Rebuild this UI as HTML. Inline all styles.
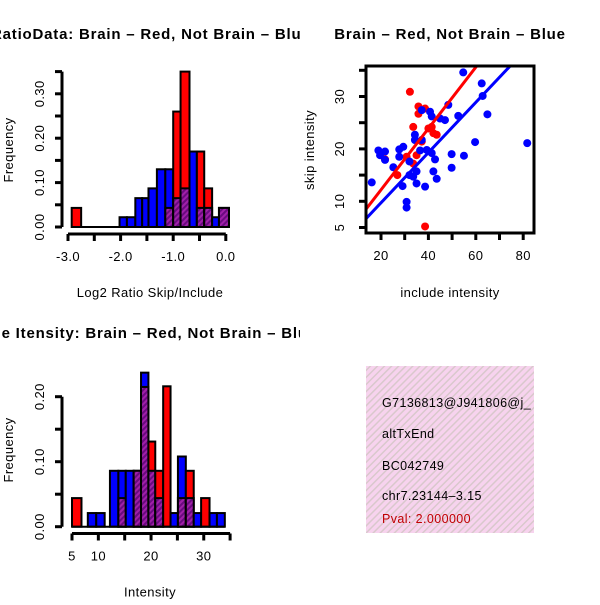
<!DOCTYPE html>
<html><head><meta charset="utf-8"><style>
html,body{margin:0;padding:0;background:#fff;}
svg text{font-family:"Liberation Sans",sans-serif;}
.t{font-size:13px;letter-spacing:0.4px;}
.ti{font-size:15px;font-weight:bold;letter-spacing:0.8px;}
</style></head><body>
<svg id="c" width="600" height="600" viewBox="0 0 600 600" xmlns="http://www.w3.org/2000/svg">
<defs>
<pattern id="hatch" width="4" height="4" patternUnits="userSpaceOnUse" patternTransform="rotate(45)">
<rect width="4" height="4" fill="#a020a8"/><rect width="2" height="4" fill="#6a0a80"/>
</pattern>
<pattern id="pinkhatch" width="5" height="5" patternUnits="userSpaceOnUse" patternTransform="rotate(45)">
<rect width="5" height="5" fill="#f7d3ee"/><rect width="1.5" height="5" fill="#d9c8cc"/>
</pattern>
<clipPath id="clipL"><rect x="0" y="0" width="300" height="600"/></clipPath>
<clipPath id="clipS"><rect x="366" y="66" width="168" height="167"/></clipPath>
<clipPath id="clipT"><rect x="366" y="366" width="168" height="167"/></clipPath>
</defs>
<g id="g"></g>
</svg>
<script>
// ---- Top histogram data (log2 ratio) ----
const ratioEdgesL = [-2.93,-2.02,-1.88,-1.72,-1.59,-1.47,-1.31,-1.15,-1.00,-0.86,-0.69,-0.55,-0.41,-0.26,-0.13];
const ratioEdgesR = [-2.75,-1.88,-1.72,-1.59,-1.47,-1.31,-1.15,-1.00,-0.86,-0.69,-0.55,-0.41,-0.26,-0.13,0.06];
const ratioColors = ['red','blue','blue','blue','blue','blue','blue','blue','red','red','blue','red','red','blue','purple'];
const ratioValues = [0.043,0.022,0.022,0.065,0.065,0.087,0.13,0.13,0.26,0.35,0.17,0.17,0.087,0.022,0.043];
const ratioPurple = [0,0,0,0,0,0,0,0.043,0.065,0.087,0,0.043,0.043,0,0.043];
const ratioTicks = [-3,-2.5,-2,-1.5,-1,-0.5,0];
const ratioTickLabels = ['-3.0','','-2.0','','-1.0','','0.0'];
const freqTicksTop = [0,0.05,0.10,0.15,0.20,0.25,0.30,0.35];
const freqTickLabelsTop = ['0.00','','0.10','','0.20','','0.30',''];

// ---- Bottom histogram data (intensity) ----
const intEdgesL = [5.0,8.0,9.6,12.2,13.8,15.2,16.7,18.1,19.5,20.8,22.3,23.7,25.1,26.6,28.1,29.5,31.1,32.5];
const intEdgesR = [6.8,9.6,11.2,13.8,15.2,16.7,18.1,19.5,20.8,22.3,23.7,25.1,26.6,28.1,29.5,31.1,32.5,34.0];
const intColors = ['red','blue','blue','blue','blue','blue','purple','blue','red','red','red','blue','blue','red','blue','red','blue','blue'];
const intValues = [0.044,0.021,0.021,0.086,0.086,0.086,0.086,0.237,0.131,0.086,0.216,0.021,0.108,0.086,0.021,0.044,0.021,0.021];
const intPurple = [0,0,0,0,0.044,0,0.086,0.215,0.086,0.044,0,0,0.044,0.044,0,0,0,0];
const intTicks = [5,10,15,20,25,30,35];
const intTickLabels = ['5','10','','20','','30',''];
const freqTicksBot = [0,0.05,0.10,0.15,0.20];
const freqTickLabelsBot = ['0.00','','0.10','','0.20'];

// ---- Scatter data ----
const redInclude = [32.2,35.8,38.6,35.8,33.6,40.0,41.4,43.5,42.1,37.2,35.0,30.8,33.6,26.9,38.6,21.7];
const redSkip =    [30.9,28.1,27.7,26.7,24.2,23.9,24.2,22.7,23.0,21.4,18.8,18.5,17.2,15.0,5.2,18.0];
const blueInclude = [54.7,62.5,62.9,48.4,37.2,40.7,41.4,44.9,47.0,52.6,64.9,34.3,34.3,37.2,29.4,18.9,21.7,19.6,21.7,27.7,27.7,32.0,36.5,39.3,41.4,49.8,55.0,59.7,81.7,42.8,25.2,49.8,35.0,42.1,32.0,33.6,43.5,16.1,29.1,35.0,38.6,30.8,30.8];
const blueSkip =    [34.6,32.5,30.1,28.4,27.4,27.1,26.2,25.8,25.5,26.3,26.6,22.7,21.7,21.7,20.4,19.7,19.5,18.8,17.9,19.9,18.5,17.6,19.7,19.8,19.2,19.0,18.7,21.3,21.1,18.0,16.5,16.4,15.7,15.7,15.0,14.7,14.3,13.6,12.9,13.4,12.8,9.9,8.8];
const redFit = [0.49,0.585];   // intercept, slope
const blueFit = [0.14,0.479];
const scXTicks = [20,30,40,50,60,70,80];
const scXTickLabels = ['20','','40','','60','','80'];
const scYTicks = [5,10,15,20,25,30,35];
const scYTickLabels = ['5','10','','20','','30',''];

const NS='http://www.w3.org/2000/svg';
const root=document.getElementById('g');
function mk(tag,attrs,parent){const e=document.createElementNS(NS,tag);for(const k in attrs)e.setAttribute(k,attrs[k]);(parent||root).appendChild(e);return e;}
function txt(s,attrs,parent){const e=mk('text',attrs,parent);e.textContent=s;return e;}
const fillOf={red:'#ff0000',blue:'#0000ff',purple:'url(#hatch)'};

function histogram(o){
  const grp=mk('g',{'clip-path':'url(#clipL)'});
  
  
  const sx=v=>o.x0+(v-o.xmin)*o.xs, sy=v=>o.y0-v*o.ys;
  for(let i=0;i<o.L.length;i++){
    const x=sx(o.L[i]),w=sx(o.R[i])-x,h=o.V[i]*o.ys;
    const r=mk('rect',{x:x,y:sy(o.V[i]),width:w,height:h,fill:fillOf[o.C[i]],stroke:'#000','stroke-width':2},grp);
    
    
    if(o.P[i]>0){
      const p=mk('rect',{x:x,y:sy(o.P[i]),width:w,height:o.P[i]*o.ys,fill:'url(#hatch)',stroke:'#000','stroke-width':2},grp);
      
      
    }
  }
  mk('line',{x1:sx(o.L[0]),x2:sx(o.R[o.R.length-1]),y1:o.y0,y2:o.y0,stroke:'#000','stroke-width':2},grp);
  const ya=mk('g',{},grp);
  
  
  mk('line',{x1:62,x2:62,y1:sy(o.yt[0]),y2:sy(o.yt[o.yt.length-1]),stroke:'#000','stroke-width':3},ya);
  o.yt.forEach((t,i)=>{mk('line',{x1:55,x2:62,y1:sy(t),y2:sy(t),stroke:'#000','stroke-width':3},ya);
    if(o.ytl[i]){const tl=txt(o.ytl[i],{x:44,y:sy(t),'class':'t','text-anchor':'middle',transform:`rotate(-90 44 ${sy(t)})`},ya);
    }});
  const xa=mk('g',{},grp);
  
  
  mk('line',{x1:sx(o.xt[0]),x2:sx(o.xt[o.xt.length-1]),y1:o.axY,y2:o.axY,stroke:'#000','stroke-width':3},xa);
  o.xt.forEach((t,i)=>{mk('line',{x1:sx(t),x2:sx(t),y1:o.axY,y2:o.axY+7,stroke:'#000','stroke-width':3},xa);
    if(o.xtl[i]){const tl=txt(o.xtl[i],{x:sx(t),y:o.axY+27,'class':'t','text-anchor':'middle'},xa);
    }});
  const xl=txt(o.xlab,{x:150,y:o.axY+63,'class':'t','text-anchor':'middle'},grp);
  
  const yl=txt('Frequency',{x:13,y:o.ymid,'class':'t','text-anchor':'middle',transform:`rotate(-90 13 ${o.ymid})`},grp);
  
  const ti=txt(o.title,{x:o.titleX,y:o.titleY,'class':'ti'},grp);
  
}

histogram({name:'ratio-histogram',L:ratioEdgesL,R:ratioEdgesR,C:ratioColors,V:ratioValues,P:ratioPurple,
  xmin:-3,x0:68,xs:52.6,y0:227,ys:444,axY:234,xt:ratioTicks,xtl:ratioTickLabels,yt:freqTicksTop,ytl:freqTickLabelsTop,
  xlab:'Log2 Ratio Skip/Include',ymid:150,title:'RatioData: Brain \u2013 Red, Not Brain \u2013 Blue',titleX:-9,titleY:39});
histogram({name:'intensity-histogram',L:intEdgesL,R:intEdgesR,C:intColors,V:intValues,P:intPurple,
  xmin:5,x0:72,xs:5.27,y0:526.7,ys:650,axY:533.5,xt:intTicks,xtl:intTickLabels,yt:freqTicksBot,ytl:freqTickLabelsBot,
  xlab:'Intensity',ymid:450,title:'Gene Itensity: Brain \u2013 Red, Not Brain \u2013 Blue',titleX:-30,titleY:338});

// ---- Scatter ----
(function(){
  const grp=mk('g',{});
  
  
  const sx=v=>381+(v-20)*2.37, sy=v=>227.5-(v-5)*5.24;
  const pts=mk('g',{'clip-path':'url(#clipS)'},grp);
  function line(f,col,name){const xa=10,xb=90;
    const l=mk('line',{x1:sx(xa),y1:sy(f[0]+f[1]*xa),x2:sx(xb),y2:sy(f[0]+f[1]*xb),stroke:col,'stroke-width':3},pts);
    }
  redInclude.forEach((x,i)=>{const c=mk('circle',{cx:sx(x),cy:sy(redSkip[i]),r:4,fill:'#ff0000'},pts);
    });
  blueInclude.forEach((x,i)=>{const c=mk('circle',{cx:sx(x),cy:sy(blueSkip[i]),r:4,fill:'#0000ff'},pts);
    });
  line(redFit,'#ff0000','fit-line-brain');
  line(blueFit,'#0000ff','fit-line-not-brain');
  const box=mk('rect',{x:366,y:66,width:168,height:167,fill:'none',stroke:'#000','stroke-width':3},grp);
  
  scXTicks.forEach((t,i)=>{mk('line',{x1:sx(t),x2:sx(t),y1:233,y2:240,stroke:'#000','stroke-width':3},grp);
    if(scXTickLabels[i]){const tl=txt(scXTickLabels[i],{x:sx(t),y:260,'class':'t','text-anchor':'middle'},grp);
    }});
  scYTicks.forEach((t,i)=>{mk('line',{x1:359,x2:366,y1:sy(t),y2:sy(t),stroke:'#000','stroke-width':3},grp);
    if(scYTickLabels[i]){const tl=txt(scYTickLabels[i],{x:344,y:sy(t),'class':'t','text-anchor':'middle',transform:`rotate(-90 344 ${sy(t)})`},grp);
    }});
  const xl=txt('include intensity',{x:450,y:297,'class':'t','text-anchor':'middle'},grp);
  
  const yl=txt('skip intensity',{x:314,y:150,'class':'t','text-anchor':'middle',transform:'rotate(-90 314 150)'},grp);
  
  const ti=txt('Brain \u2013 Red, Not Brain \u2013 Blue',{x:450,y:39,'class':'ti','text-anchor':'middle'},grp);
  
})();

// ---- Info box ----
(function(){
  const grp=mk('g',{'clip-path':'url(#clipT)'});
  
  
  mk('rect',{x:366,y:366,width:168,height:167,fill:'url(#pinkhatch)'},grp);
  const lines=[['G7136813@J941806@j_','#000',407,'gene-id'],['altTxEnd','#000',438,'event-type'],['BC042749','#000',470,'accession'],['chr7.23144\u20133.15','#000',500,'location'],['Pval: 2.000000','#c00000',523,'p-value']];
  lines.forEach(l=>{const t=txt(l[0],{x:382,y:l[2],'font-size':12.5,'letter-spacing':0.4,fill:l[1]},grp);
    });
})();
</script>
</body></html>
